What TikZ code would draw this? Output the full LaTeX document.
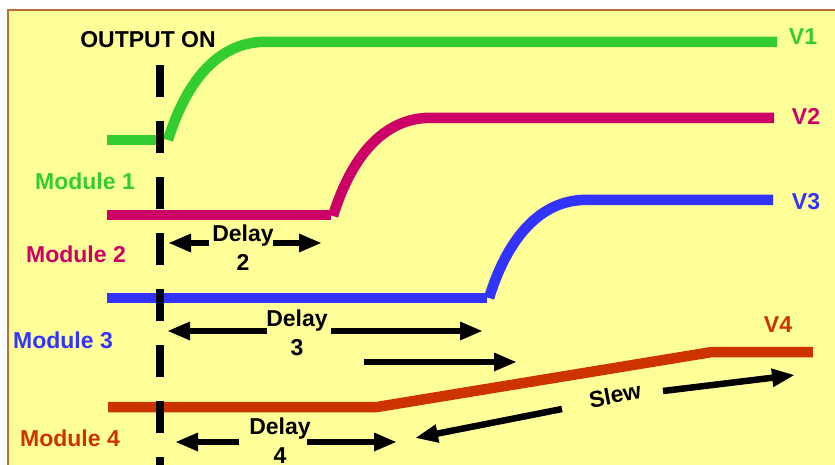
\documentclass[tikz,border=0pt]{standalone}
\usepackage{fontspec}
\setmainfont{Liberation Sans}
\usetikzlibrary{arrows.meta}
\definecolor{psYellow}{RGB}{255,255,153}
\definecolor{psFrame}{RGB}{190,110,50}
\definecolor{psGreen}{RGB}{51,204,51}
\definecolor{psMagenta}{RGB}{204,0,102}
\definecolor{psBlue}{RGB}{51,51,255}
\definecolor{psOrange}{RGB}{204,51,0}
\tikzset{
    base/.style={font=\fontsize{23}{29}\selectfont\bfseries, align=center, inner sep=0pt},
    tag/.style={base, text=#1},
    rail/.style={line width=10.5pt, draw=#1},
    timing/.style={-{Triangle[length=23pt,width=17pt]}, line width=6.5pt, draw=black},
    marker/.style={line width=7.5pt, draw=black, dash pattern=on 32pt off 24pt}
}
\begin{document}
\begin{tikzpicture}[x=1pt,y=-1pt]
  \useasboundingbox (0,0) rectangle (835,465);
  \clip (0,0) rectangle (835,465);
  \fill[white] (0,0) rectangle (835,465);
  \draw[psFrame, fill=psYellow, line width=1.2pt] (8,10) rectangle (850,480);

  % Output rails
  \draw[rail=psGreen] (107,140) -- (157,140);
  \draw[rail=psGreen] (168,140) .. controls (185,85) and (215,45) .. (260,42) -- (777,42);
  \draw[rail=psMagenta] (107,215) -- (331,215);
  \draw[rail=psMagenta] (333,216) .. controls (350,161) and (380,121) .. (425,118) -- (774,118);
  \draw[rail=psBlue] (107,298) -- (487,298);
  \draw[rail=psBlue] (489,298) .. controls (506,243) and (536,203) .. (581,200) -- (773,200);
  \draw[rail=psOrange] (108,407) -- (377,407) -- (712,352) -- (813,352);

  % Output on marker
  \draw[marker] (160,65) -- (160,475);
  \node[base] (on) at (148,40) {OUTPUT ON};

  % Rail names
  \node[tag=psGreen] (v1) at (803,37) {V1};
  \node[tag=psMagenta] (v2) at (806,116) {V2};
  \node[tag=psBlue] (v3) at (806,202) {V3};
  \node[tag=psOrange] (v4) at (778,325) {V4};
  \node[tag=psGreen] (m1) at (85,181) {Module 1};
  \node[tag=psMagenta] (m2) at (76,254) {Module 2};
  \node[tag=psBlue] (m3) at (63,340) {Module 3};
  \node[tag=psOrange] (m4) at (70,438) {Module 4};

  % Delays
  \node[base] (d2) at (243,248) {Delay\\2};
  \node[base] (d3) at (297,333) {Delay\\3};
  \node[base] (d4) at (280,441) {Delay\\4};
  \node[base, rotate=11] (slew) at (615,395) {Slew};

  \coordinate (d2a) at (209,243);
  \coordinate (d2b) at (168,243);
  \coordinate (d2c) at (273,243);
  \coordinate (d2d) at (322,243);
  \coordinate (d3a) at (267,331);
  \coordinate (d3b) at (167,331);
  \coordinate (d3c) at (331,331);
  \coordinate (d3d) at (483,331);
  \coordinate (d3e) at (364,362);
  \coordinate (d3f) at (517,362);
  \coordinate (d4a) at (239,442);
  \coordinate (d4b) at (175,442);
  \coordinate (d4c) at (307,442);
  \coordinate (d4d) at (397,442);
  \coordinate (s1) at (562,409);
  \coordinate (s2) at (415,438);
  \coordinate (s3) at (663,391);
  \coordinate (s4) at (795,375);

  \draw[timing] (d2a) -- (d2b);
  \draw[timing] (d2c) -- (d2d);
  \draw[timing] (d3a) -- (d3b);
  \draw[timing] (d3c) -- (d3d);
  \draw[timing] (d3e) -- (d3f);
  \draw[timing] (d4a) -- (d4b);
  \draw[timing] (d4c) -- (d4d);
  \draw[timing] (s1) -- (s2);
  \draw[timing] (s3) -- (s4);
\end{tikzpicture}
\end{document}
